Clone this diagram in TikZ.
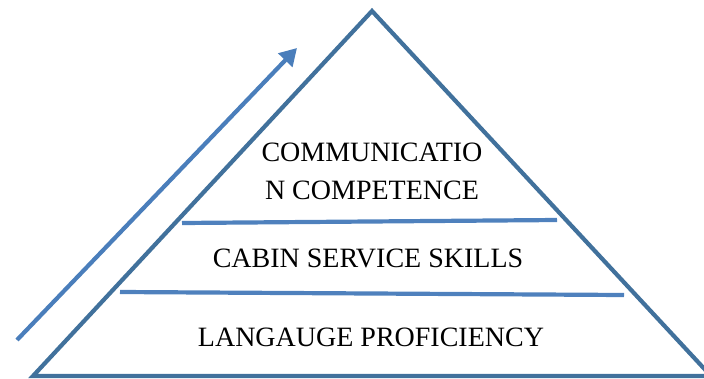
\documentclass[tikz,border=0pt]{standalone}
\usepackage{fontspec}
\setmainfont{Liberation Serif}
\usetikzlibrary{arrows.meta}
\definecolor{edgeblue}{HTML}{41719C}
\definecolor{barblue}{HTML}{4F81BD}
\definecolor{arrowblue}{HTML}{4A7EBB}
\tikzset{
  pyramid/.style={draw=edgeblue, line width=4.2pt, line join=miter},
  divider/.style={draw=barblue, line width=4.2pt},
  growth/.style={draw=arrowblue, line width=4.2pt, -{Triangle[length=17pt,width=19pt]}},
  tier/.style={font=\fontsize{28}{38}\selectfont, text=black, align=center, inner sep=0pt}
}
\begin{document}
\begin{tikzpicture}[x=1pt, y=-1pt]
  \useasboundingbox (0,0) rectangle (704,378);
  \clip (0,0) rectangle (704,378);
  % pyramid outline
  \coordinate (apex) at (372,11);
  \coordinate (bl) at (33,376);
  \coordinate (br) at (711,376);
  \draw[pyramid] (apex) -- (br) -- (bl) -- cycle;
  % tier dividers
  \coordinate (d1l) at (182,223);
  \coordinate (d1r) at (557,220);
  \coordinate (d2l) at (120,292);
  \coordinate (d2r) at (624,295);
  \draw[divider] (d1l) -- (d1r);
  \draw[divider] (d2l) -- (d2r);
  % rising arrow beside the pyramid
  \coordinate (as) at (17,340);
  \coordinate (ae) at (297,48);
  \draw[growth] (as) -- (ae);
  % tier labels
  \node[tier] (top) at (372,171) {COMMUNICATIO\\N COMPETENCE};
  \node[tier] (mid) at (368,258) {CABIN SERVICE SKILLS};
  \node[tier] (base) at (371,337) {LANGAUGE PROFICIENCY};
\end{tikzpicture}
\end{document}
